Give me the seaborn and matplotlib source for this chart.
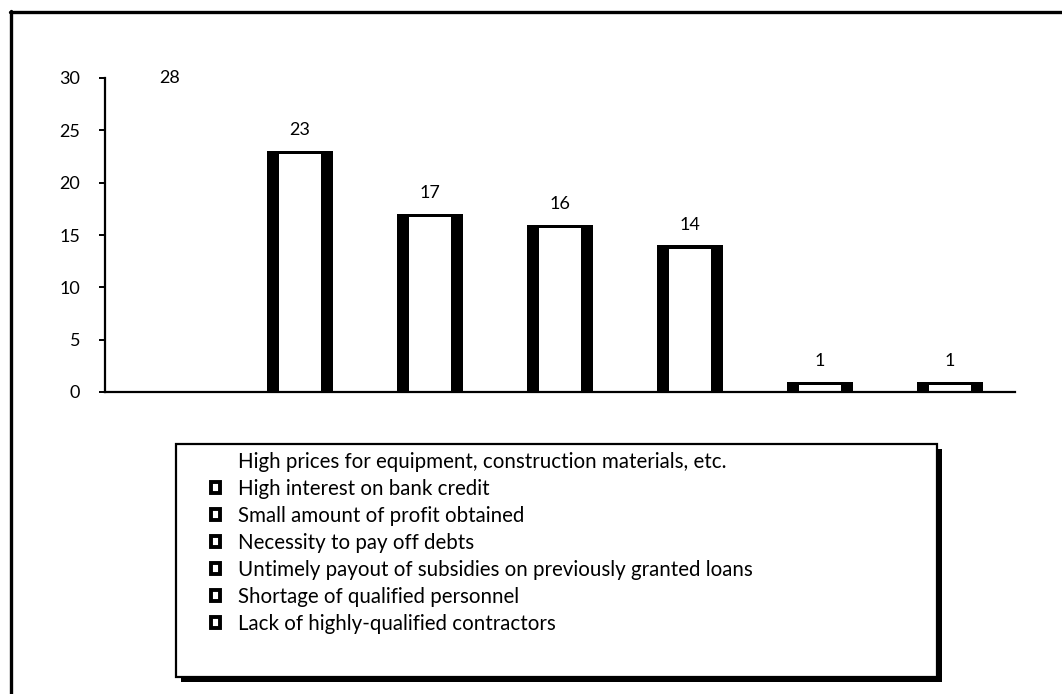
import numpy as np
import matplotlib
matplotlib.use("Agg")
import matplotlib.pyplot as plt
from matplotlib.patches import Rectangle, Patch
from matplotlib.lines import Line2D
import seaborn as sns

categories = [
    "High prices for equipment, construction materials, etc.",
    "High interest on bank credit",
    "Small amount of profit obtained",
    "Necessity to pay off debts",
    "Untimely payout of subsidies on previously granted loans",
    "Shortage of qualified personnel",
    "Lack of highly-qualified contractors",
]
values = [28, 23, 17, 16, 14, 1, 1]
yticks = [0, 5, 10, 15, 20, 25, 30]

sns.set_theme(style="white")
plt.rcParams["font.family"] = ["Lato", "DejaVu Sans"]

W, H = 1062, 694
fig = plt.figure(figsize=(W / 100, H / 100), dpi=100)
ax = fig.add_axes([105 / W, 1 - 392 / H, (1015 - 105) / W, (392 - 78) / H])

# outer black body of each bar
outer_colors = ["white"] + ["black"] * (len(values) - 1)
sns.barplot(x=categories, y=values, hue=categories, palette=outer_colors,
            width=0.51, ax=ax, legend=False, linewidth=0, saturation=1)
# inner white part (leaves thick black sides and a thin top)
top = 0.3
inner = [max(v - top, 0) for v in values]
sns.barplot(x=categories, y=inner, color="white", width=0.32, ax=ax,
            linewidth=0, saturation=1)

ax.set_ylim(0, 30)
ax.set_xlim(-0.5, len(values) - 0.5)
ax.set_yticks(yticks)
ax.set_xticks([])
ax.set_xlabel("")
ax.set_ylabel("")
for s in ["top", "right"]:
    ax.spines[s].set_visible(False)
for s in ["left", "bottom"]:
    ax.spines[s].set_color("black")
    ax.spines[s].set_linewidth(1.6)
ax.tick_params(axis="y", length=4, width=1.4, color="black", direction="out",
               left=True, pad=14, labelsize=13, labelcolor="black")

for i, v in enumerate(values):
    ax.annotate(str(v), (i, v), xytext=(0, 15), textcoords="offset points",
                ha="center", va="center", fontsize=13, color="black")

# figure border (top and left only visible)
fig.add_artist(Line2D([10 / W, 1.0], [1 - 12 / H, 1 - 12 / H],
                      color="black", lw=2.4, transform=fig.transFigure))
fig.add_artist(Line2D([11 / W, 11 / W], [0, 1 - 11 / H],
                      color="black", lw=2.4, transform=fig.transFigure))

# legend frame with shadow
lx0, ly0, lx1, ly1 = 176, 444, 937, 677
sh = 5
fig.add_artist(Rectangle(((lx0 + sh) / W, 1 - (ly1 + sh) / H),
                         (lx1 - lx0) / W, (ly1 - ly0) / H,
                         transform=fig.transFigure, facecolor="black",
                         edgecolor="black", lw=0))
fig.add_artist(Rectangle((lx0 / W, 1 - ly1 / H), (lx1 - lx0) / W,
                         (ly1 - ly0) / H, transform=fig.transFigure,
                         facecolor="white", edgecolor="black", lw=1.6))

handles = [Patch(facecolor="none", edgecolor="none")]
for i in range(1, len(categories)):
    handles.append(Patch(facecolor="white", edgecolor="black", linewidth=2.8))
leg = fig.legend(handles, categories, loc="upper left",
                 bbox_to_anchor=(211 / W, 1 - 452 / H),
                 bbox_transform=fig.transFigure, frameon=False,
                 fontsize=14.8, handlelength=0.45, handleheight=0.45,
                 handletextpad=0.88, labelspacing=0.34, borderpad=0,
                 borderaxespad=0)
for t in leg.get_texts():
    t.set_color("black")

fig.savefig("out.png", dpi=100, facecolor="white")
